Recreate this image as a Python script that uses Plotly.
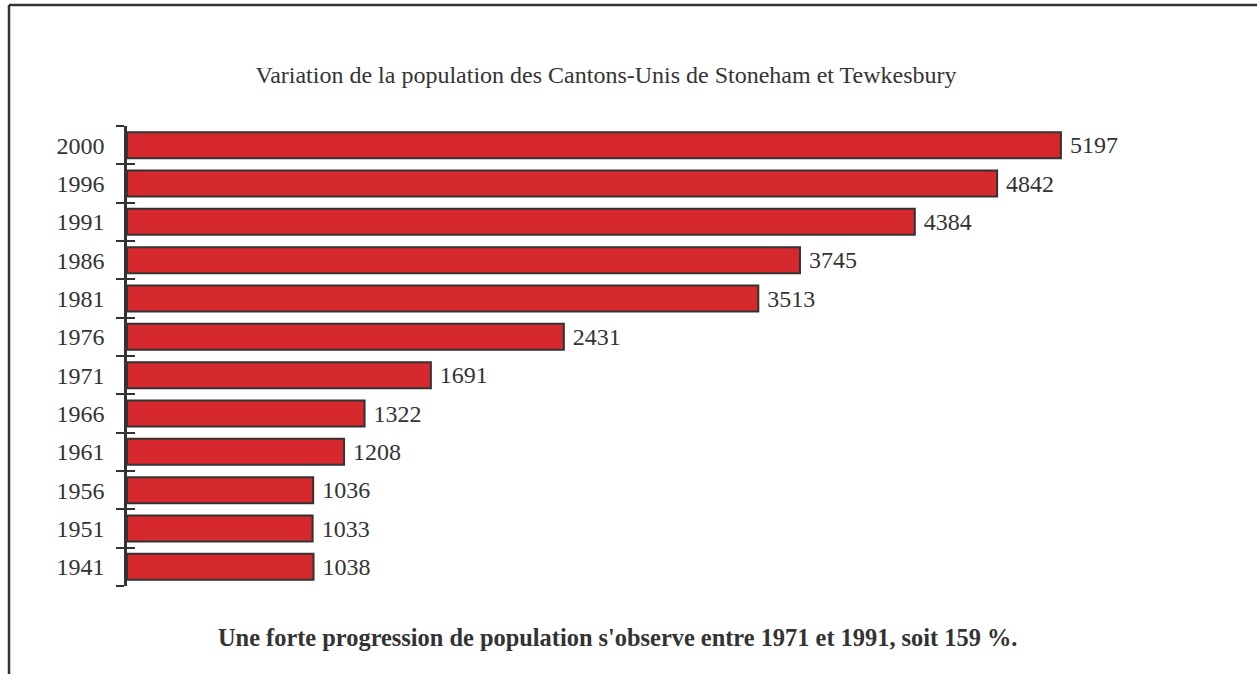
import plotly.graph_objects as go

years = ["1941", "1951", "1956", "1961", "1966", "1971", "1976", "1981", "1986", "1991", "1996", "2000"]
population = [1038, 1033, 1036, 1208, 1322, 1691, 2431, 3513, 3745, 4384, 4842, 5197]

title_text = "Variation de la population des Cantons-Unis de Stoneham et Tewkesbury"
note_text = "Une forte progression de population s'observe entre 1971 et 1991, soit 159 %."

W, H = 1257, 674
ML, MR, MT, MB = 127, 52, 126, 88
PW, PH = W - ML - MR, H - MT - MB

def px_x(x):
    return (x - ML) / PW

def px_y(y):
    return (H - MB - y) / PH

FONT = "Liberation Serif"
DARK = "#333333"

fig = go.Figure()
fig.add_trace(go.Bar(
    x=population, y=years, orientation="h",
    marker=dict(color="#d5292d", line=dict(color=DARK, width=2)),
    text=population, texttemplate="\u00a0%{x}", textposition="outside",
    textfont=dict(family=FONT, size=24, color=DARK),
    constraintext="none", cliponaxis=False, hoverinfo="skip", showlegend=False,
))
fig.add_trace(go.Bar(
    x=[None] * len(years), y=years, orientation="h", yaxis="y2",
    showlegend=False, hoverinfo="skip",
))

fig.update_layout(
    width=W, height=H,
    margin=dict(l=ML, r=MR, t=MT, b=MB),
    paper_bgcolor="white", plot_bgcolor="white",
    bargap=0.32,
    title=dict(text=title_text, x=606 / W, xanchor="center", y=1 - 75 / H, yanchor="middle",
               font=dict(family=FONT, size=24, color=DARK)),
    xaxis=dict(range=[0, PW / 0.1797], visible=False, showgrid=False, zeroline=False),
    yaxis=dict(type="category", categoryorder="array", categoryarray=years,
               showline=True, linecolor=DARK, linewidth=2.5,
               ticks="outside", tickson="boundaries", ticklen=8, tickwidth=2, tickcolor=DARK,
               ticklabelstandoff=15,
               tickfont=dict(family=FONT, size=24, color=DARK), showgrid=False, zeroline=False),
    yaxis2=dict(type="category", categoryorder="array", categoryarray=years, overlaying="y",
                side="left", ticks="inside", tickson="boundaries", ticklen=8, tickwidth=2,
                tickcolor=DARK, showticklabels=False, showline=False, showgrid=False,
                matches="y"),
    font=dict(family=FONT, color=DARK),
)

fig.add_annotation(text="<b>" + note_text + "</b>", xref="paper", yref="paper",
                   x=px_x(617), y=px_y(637), xanchor="center", yanchor="middle",
                   showarrow=False, font=dict(family=FONT, size=24.4, color=DARK))

# outer frame (top and left edges)
fig.add_shape(type="line", xref="paper", yref="paper", x0=px_x(9), x1=px_x(1262),
              y0=px_y(5), y1=px_y(5), line=dict(color=DARK, width=2.5))
fig.add_shape(type="line", xref="paper", yref="paper", x0=px_x(9), x1=px_x(9),
              y0=px_y(5), y1=px_y(680), line=dict(color=DARK, width=2.5))

fig.write_html("out.html", config={"displayModeBar": False},
               post_script="document.body.style.margin='0';document.body.style.overflow='hidden';")
